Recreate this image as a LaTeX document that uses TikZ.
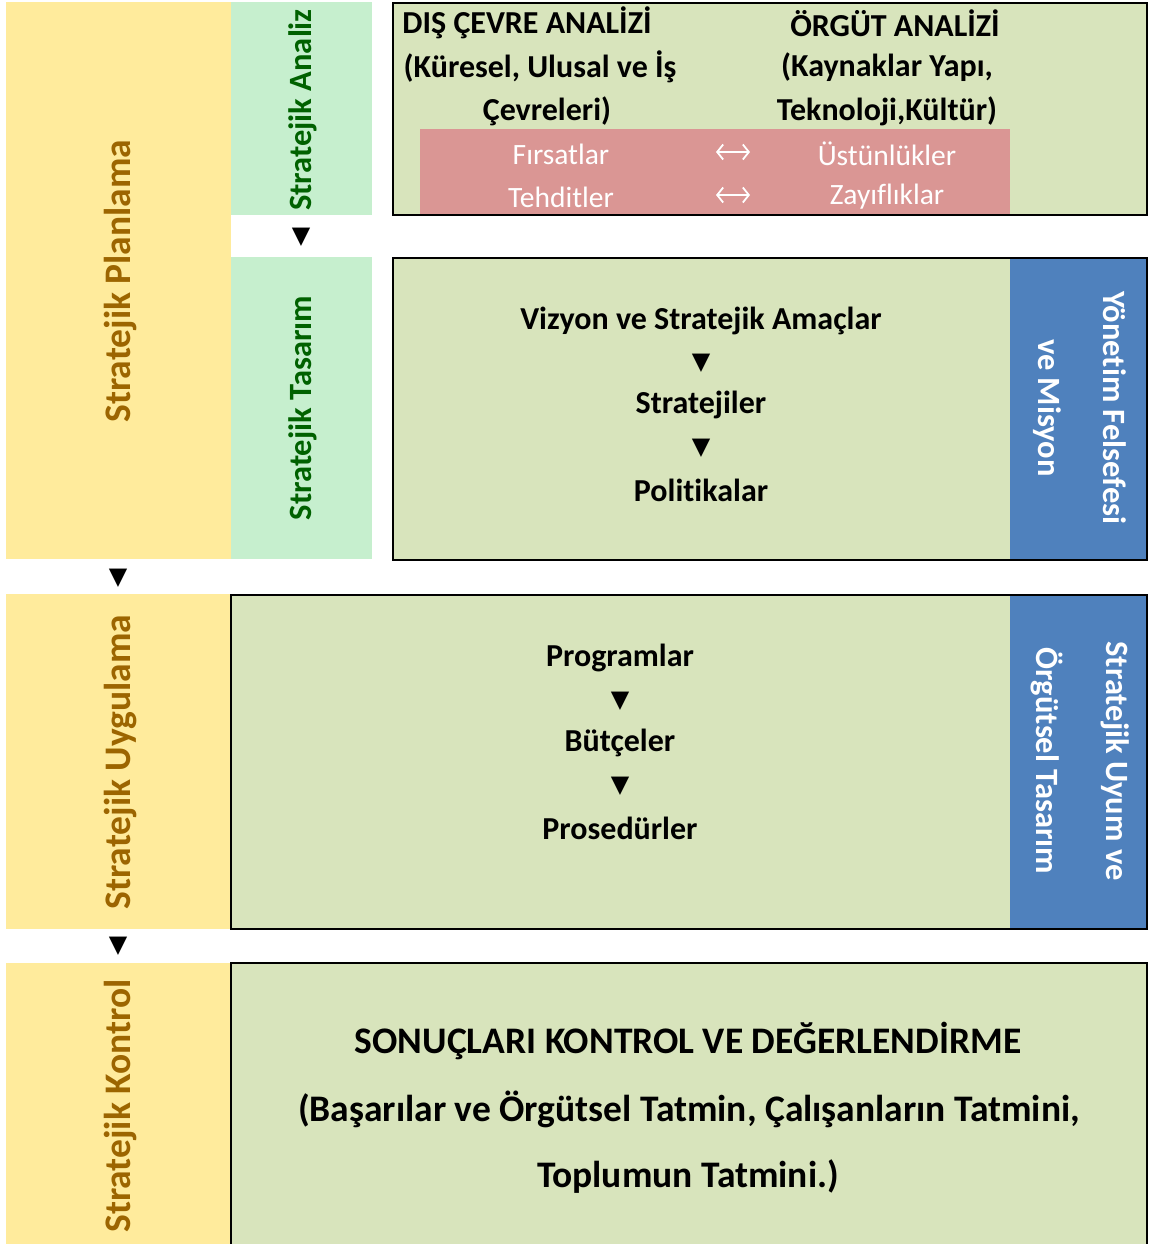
\documentclass[tikz,border=0pt]{standalone}
\usepackage{fontspec}
\setmainfont{Carlito}[Ligatures=NoCommon]
\newfontfamily\symfont{DejaVu Sans}
\usetikzlibrary{arrows.meta}
\definecolor{gold}{HTML}{FFEB9C}
\definecolor{goldtxt}{HTML}{9C6500}
\definecolor{mint}{HTML}{C6EFCE}
\definecolor{minttxt}{HTML}{006100}
\definecolor{olive}{HTML}{D8E4BC}
\definecolor{rose}{HTML}{DA9694}
\definecolor{steel}{HTML}{4F81BD}
\begin{document}
\begin{tikzpicture}[x=1pt,y=-1pt,
  panel/.style={draw=black,line width=2.5pt},
  lbl/.style={font=\bfseries\fontsize{32}{36}\selectfont,inner sep=0pt},
  big/.style={font=\bfseries\fontsize{37.5}{42}\selectfont,inner sep=0pt},
  swot/.style={font=\fontsize{29.5}{34}\selectfont,text=white,inner sep=0pt},
  phase/.style={font=\bfseries\fontsize{37.5}{42}\selectfont,text=goldtxt,rotate=90,inner sep=0pt},
  stage/.style={font=\bfseries\fontsize{32.5}{36}\selectfont,text=minttxt,rotate=90,inner sep=0pt},
  side/.style={font=\bfseries\fontsize{32.5}{36}\selectfont,text=white,rotate=-90,inner sep=0pt},
  tri/.style={font=\symfont\fontsize{24}{26}\selectfont,inner sep=0pt},
  twoway/.style={draw=white,line width=1.8pt,
    {Straight Barb[length=6pt,width=15pt]}-{Straight Barb[length=6pt,width=15pt]}}]
\useasboundingbox (0,0) rectangle (1154,1244);

% phase columns
\fill[gold] (6,2) rectangle (231,559);
\fill[gold] (6,594) rectangle (231,929);
\fill[gold] (6,963) rectangle (231,1244);
% planning sub-stages
\fill[mint] (231,2) rectangle (372,215);
\fill[mint] (231,257) rectangle (372,559);

% content panels
\fill[olive] (393,3) rectangle (1147,215);
\fill[olive] (393,258) rectangle (1147,560);
\fill[olive] (231,595) rectangle (1147,929);
\fill[olive] (231,963) rectangle (1147,1260);
\fill[rose] (420,129) rectangle (1010,215);
\fill[steel] (1010,258) rectangle (1147,560);
\fill[steel] (1010,595) rectangle (1147,929);
\draw[panel] (393,3) rectangle (1147,215);
\draw[panel] (393,258) rectangle (1147,560);
\draw[panel] (231,595) rectangle (1147,929);
\draw[panel] (231,963) rectangle (1147,1260);

% phase labels
\node[phase] (plan) at (121,281) {Stratejik Planlama};
\node[phase] (uyg) at (121,762) {Stratejik Uygulama};
\node[phase] (kon) at (121,1106) {Stratejik Kontrol};
\node[stage] (analiz) at (303,110) {Stratejik Analiz};
\node[stage] (tasarim) at (303,408) {Stratejik Tasarım};
\node[tri] (t0) at (301,237) {▼};
\node[tri] (t1) at (118,578) {▼};
\node[tri] (t2) at (118,946) {▼};

% analysis panel
\node[lbl] (dis1) at (527,23) {DIŞ ÇEVRE ANALİZİ};
\node[lbl] (dis2) at (540,67) {(Küresel, Ulusal ve İş};
\node[lbl] (dis3) at (547,111) {Çevreleri)};
\node[lbl] (org1) at (895,23) {ÖRGÜT ANALİZİ};
\node[lbl] (org2) at (887,67) {(Kaynaklar Yapı,};
\node[lbl] (org3) at (887,111) {Teknoloji,Kültür)};
\node[swot] (f) at (561,154) {Fırsatlar};
\node[swot] (u) at (887,154) {Üstünlükler};
\node[swot] (t) at (561,197) {Tehditler};
\node[swot] (z) at (887,197) {Zayıflıklar};
\coordinate (a1l) at (716,152);
\coordinate (a1r) at (750,152);
\coordinate (a2l) at (716,195);
\coordinate (a2r) at (750,195);
\draw[twoway] (a1l) -- (a1r);
\draw[twoway] (a2l) -- (a2r);

% design panel
\node[lbl] (viz) at (701,321) {Vizyon ve Stratejik Amaçlar};
\node[tri] (t3) at (701,363) {▼};
\node[lbl] (str) at (701,405) {Stratejiler};
\node[tri] (t4) at (701,448) {▼};
\node[lbl] (pol) at (701,490) {Politikalar};
\node[side] (yf1) at (1115,408) {Yönetim Felsefesi};
\node[side] (yf2) at (1047,408) {ve Misyon};

% implementation panel
\node[lbl] (prg) at (620,658) {Programlar};
\node[tri] (t5) at (620,701) {▼};
\node[lbl] (but) at (620,743) {Bütçeler};
\node[tri] (t6) at (620,786) {▼};
\node[lbl] (pro) at (620,828) {Prosedürler};
\node[side] (su1) at (1115,761) {Stratejik Uyum ve};
\node[side] (su2) at (1047,761) {Örgütsel Tasarım};

% control panel
\node[big] (son) at (688,1041) {SONUÇLARI KONTROL VE DEĞERLENDİRME};
\node[big] (bas) at (689,1109) {(Başarılar ve Örgütsel Tatmin, Çalışanların Tatmini,};
\node[big] (top) at (688,1177) {Toplumun Tatmini.)};
\end{tikzpicture}
\end{document}
